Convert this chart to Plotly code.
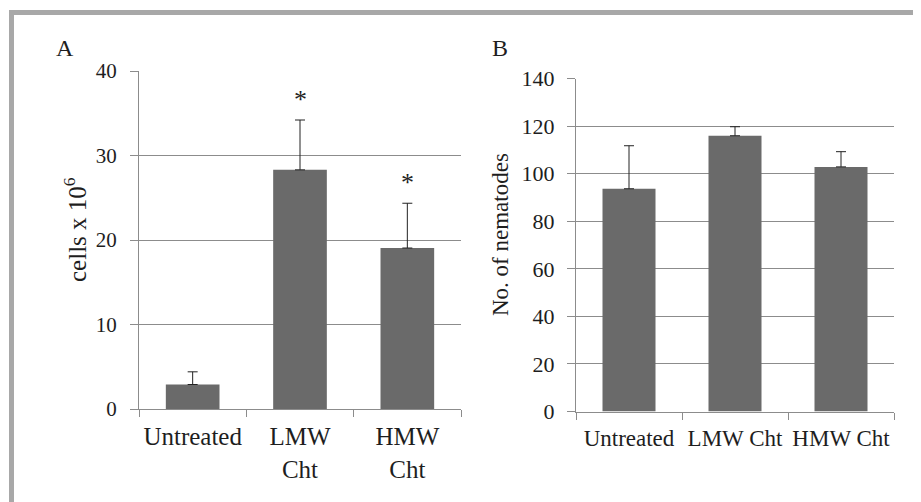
import plotly.graph_objects as go

W, H = 921, 502
OFF = 8  # page body margin of the html page
FW, FH = W - OFF, H - OFF

# Panel A data
cats_a = ["Untreated", "LMW<br>Cht", "HMW<br>Cht"]
vals_a = [2.9, 28.3, 19.05]
err_a = [1.5, 5.9, 5.3]
stars_a = ["", "*", "*"]
yticks_a = [0, 10, 20, 30, 40]

# Panel B data
cats_b = ["Untreated", "LMW Cht", "HMW Cht"]
vals_b = [93.7, 116.0, 102.9]
err_b = [18.1, 3.8, 6.4]
yticks_b = [0, 20, 40, 60, 80, 100, 120, 140]

BAR = "#6a6a6a"
GRID = "#8c8c8c"
TXT = "#1e1e1e"
FONT = "Liberation Serif"

def px_x(p):
    return (p - OFF) / FW

def px_y(p):
    return 1 - (p - OFF) / FH

fig = go.Figure()

fig.add_trace(go.Bar(
    x=cats_a, y=vals_a, width=0.5, marker=dict(color=BAR, line=dict(width=0)),
    error_y=dict(type="data", symmetric=False, array=err_a, arrayminus=[0] * 3,
                 color="#222222", thickness=1, width=5),
    xaxis="x", yaxis="y", showlegend=False,
))
fig.add_trace(go.Bar(
    x=cats_b, y=vals_b, width=0.5, marker=dict(color=BAR, line=dict(width=0)),
    error_y=dict(type="data", symmetric=False, array=err_b, arrayminus=[0] * 3,
                 color="#222222", thickness=1, width=5),
    xaxis="x2", yaxis="y2", showlegend=False,
))

axis_common = dict(showline=True, linecolor=GRID, linewidth=1, ticks="outside",
                   tickcolor=GRID, zeroline=False, automargin=False)

fig.update_layout(
    width=FW, height=FH,
    margin=dict(l=0, r=0, t=0, b=0, pad=0),
    paper_bgcolor="white", plot_bgcolor="white",
    font=dict(family=FONT, color=TXT),
    bargap=0.5,
    xaxis=dict(domain=[px_x(139), px_x(461)], type="category", tickson="boundaries",
               ticklen=7, showgrid=False, anchor="y", tickangle=0, ticklabelstandoff=5,
               tickfont=dict(size=25, family=FONT, color=TXT), **axis_common),
    yaxis=dict(domain=[px_y(409), px_y(71)], range=[0, 40], tickvals=yticks_a,
               showgrid=True, gridcolor=GRID, gridwidth=1, ticklen=8, anchor="x",
               ticklabelstandoff=9,
               tickfont=dict(size=21, family=FONT, color=TXT), **axis_common),
    xaxis2=dict(domain=[px_x(576), px_x(894)], type="category", tickson="boundaries",
                ticklen=7, showgrid=False, anchor="y2", tickangle=0, ticklabelstandoff=6,
                tickfont=dict(size=23, family=FONT, color=TXT), **axis_common),
    yaxis2=dict(domain=[px_y(411.5), px_y(78.7)], range=[0, 140], tickvals=yticks_b,
                showgrid=True, gridcolor=GRID, gridwidth=1, ticklen=8, anchor="x2",
                ticklabelstandoff=8,
                tickfont=dict(size=22, family=FONT, color=TXT), **axis_common),
)

annotations = []
for c, v, e, s in zip(cats_a, vals_a, err_a, stars_a):
    if s:
        annotations.append(dict(x=c, y=v + e, xref="x", yref="y", text=s, showarrow=False,
                                xanchor="center", yanchor="bottom", yshift=4,
                                font=dict(size=26, family=FONT, color=TXT)))
annotations += [
    dict(x=px_x(65), y=px_y(48), xref="paper", yref="paper", text="A", showarrow=False,
         xanchor="center", yanchor="middle", font=dict(size=24, family=FONT, color=TXT)),
    dict(x=px_x(500), y=px_y(48), xref="paper", yref="paper", text="B", showarrow=False,
         xanchor="center", yanchor="middle", font=dict(size=24, family=FONT, color=TXT)),
    dict(x=px_x(75), y=px_y(230), xref="paper", yref="paper", text="cells x 10<sup>6</sup>",
         textangle=-90, showarrow=False, xanchor="center", yanchor="middle",
         font=dict(size=25, family=FONT, color=TXT)),
    dict(x=px_x(500), y=px_y(235), xref="paper", yref="paper", text="No. of nematodes",
         textangle=-90, showarrow=False, xanchor="center", yanchor="middle",
         font=dict(size=23, family=FONT, color=TXT)),
]
fig.update_layout(annotations=annotations)

BORDER = "#a8a8a8"
fig.update_layout(shapes=[
    dict(type="rect", xref="paper", yref="paper", x0=px_x(9), x1=1, y0=px_y(15), y1=px_y(10),
         fillcolor=BORDER, line=dict(width=0), layer="above"),
    dict(type="rect", xref="paper", yref="paper", x0=px_x(9), x1=px_x(14), y0=0, y1=px_y(10),
         fillcolor=BORDER, line=dict(width=0), layer="above"),
])

fig.write_html("out.html")
